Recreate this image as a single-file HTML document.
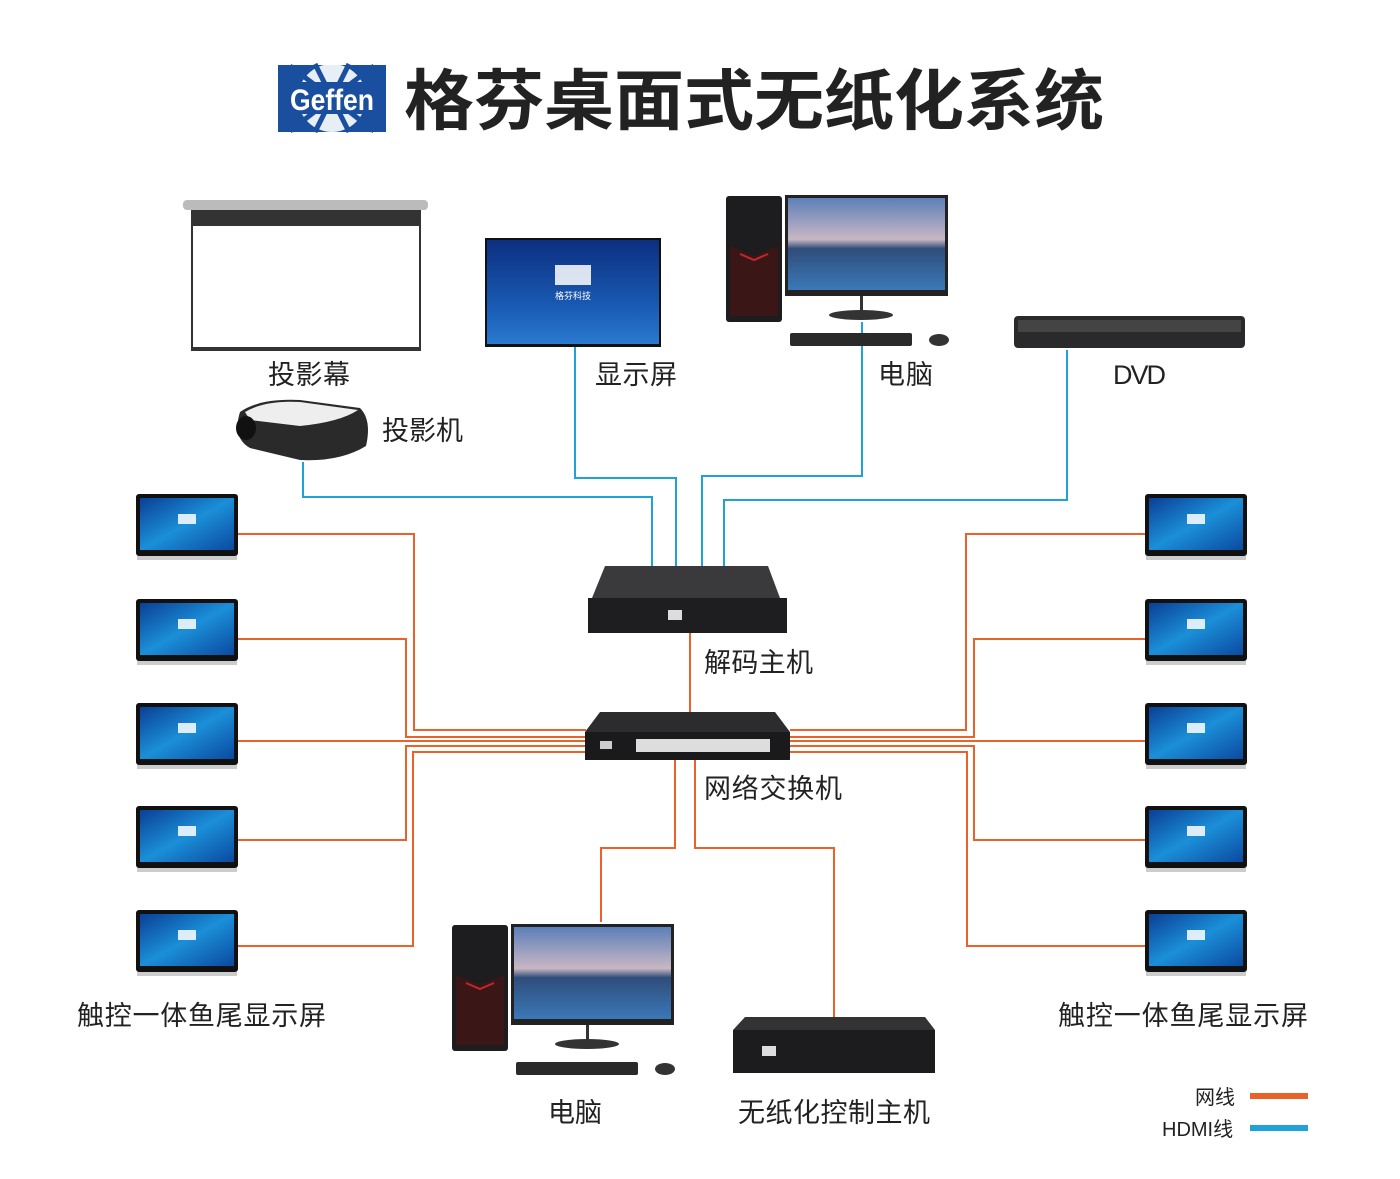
<!DOCTYPE html>
<html><head><meta charset="utf-8"><style>
html,body{margin:0;padding:0;background:#fff;}
svg{display:block;}
text{font-family:"Liberation Sans","Noto Sans CJK SC",sans-serif;}
</style></head><body>
<svg width="1400" height="1179" viewBox="0 0 1400 1179" xmlns="http://www.w3.org/2000/svg">
<defs>
<linearGradient id="scr" x1="0" y1="0" x2="1" y2="1">
<stop offset="0" stop-color="#0a3f95"/><stop offset="0.5" stop-color="#1b8fd8"/><stop offset="1" stop-color="#0b4aa0"/>
</linearGradient>
<linearGradient id="land" x1="0" y1="0" x2="0" y2="1">
<stop offset="0" stop-color="#5c7fb8"/><stop offset="0.45" stop-color="#c9b7c4"/><stop offset="0.55" stop-color="#2f4d7a"/><stop offset="1" stop-color="#3b78b8"/>
</linearGradient>
<linearGradient id="mon" x1="0" y1="0" x2="0" y2="1">
<stop offset="0" stop-color="#0c2f80"/><stop offset="0.7" stop-color="#1b5fb8"/><stop offset="1" stop-color="#2a7ad0"/>
</linearGradient>
<g id="tab">
<rect x="0" y="0" width="102" height="62" rx="3" fill="#111"/>
<rect x="4" y="4" width="94" height="52" fill="url(#scr)"/>
<rect x="42" y="20" width="18" height="10" fill="#fff" opacity="0.85"/>
<rect x="1" y="62" width="100" height="4" fill="#ccc"/>
</g>
<g id="pc">
<rect x="0" y="0" width="56" height="126" rx="3" fill="#1d1d1f"/>
<path d="M4 50 L28 60 L52 50 L52 120 L4 120Z" fill="#3a1616"/>
<path d="M14 58 L28 64 L42 58" stroke="#c0282a" stroke-width="2" fill="none"/>
<rect x="59" y="-1" width="163" height="101" fill="#222"/>
<rect x="62" y="2" width="157" height="92" fill="url(#land)"/>
<rect x="134" y="100" width="3" height="16" fill="#333"/>
<ellipse cx="135" cy="119" rx="32" ry="5" fill="#333"/>
<rect x="64" y="137" width="122" height="13" rx="2" fill="#2a2a2a"/>
<ellipse cx="213" cy="144" rx="10" ry="6" fill="#333"/>
</g>
</defs>

<!-- logo -->
<rect x="278" y="65" width="108" height="67" fill="#1a4fa0"/>
<circle cx="332" cy="98" r="34" fill="#fff" opacity="0.9"/>
<g stroke="#1a4fa0" stroke-width="5">
<line x1="332" y1="98" x2="290" y2="66"/><line x1="332" y1="98" x2="374" y2="66"/>
<line x1="332" y1="98" x2="290" y2="131"/><line x1="332" y1="98" x2="374" y2="131"/>
<line x1="332" y1="98" x2="315" y2="64"/><line x1="332" y1="98" x2="349" y2="64"/>
<line x1="332" y1="98" x2="315" y2="132"/><line x1="332" y1="98" x2="349" y2="132"/>
</g>
<rect x="283" y="82" width="98" height="32" fill="#1a4fa0"/>
<text x="332" y="110" font-size="30" font-weight="bold" fill="#fff" text-anchor="middle" textLength="84" lengthAdjust="spacingAndGlyphs">Geffen</text>
<text x="404" y="124" font-size="66" font-weight="bold" fill="#222" textLength="700" lengthAdjust="spacingAndGlyphs">格芬桌面式无纸化系统</text>

<!-- lines blue -->
<g fill="none" stroke="#1ea2d8" stroke-width="2">
<path d="M303 462 V497 H652 V566"/>
<path d="M575 347 V478 H676 V566"/>
<path d="M862 322 V476 H702 V566"/>
<path d="M1067 350 V500 H724 V566"/>
</g>
<!-- lines orange -->
<g fill="none" stroke="#e8622a" stroke-width="2">
<path d="M238 534 H414 V730 H586"/>
<path d="M238 639 H406 V737 H586"/>
<path d="M238 741 H586"/>
<path d="M238 840 H406 V746 H586"/>
<path d="M238 946 H413 V752 H586"/>
<path d="M1145 534 H966 V730 H790"/>
<path d="M1145 639 H974 V737 H790"/>
<path d="M1145 741 H790"/>
<path d="M1145 840 H974 V746 H790"/>
<path d="M1145 946 H967 V752 H790"/>
<path d="M690 632 V712"/>
<path d="M675 760 V848 H601 V922"/>
<path d="M695 760 V848 H834 V1017"/>
</g>

<!-- projection screen -->
<rect x="183" y="200" width="245" height="10" rx="4" fill="#bbb"/>
<rect x="191" y="210" width="230" height="141" fill="#333"/>
<rect x="193" y="226" width="226" height="121" fill="#fff"/>
<!-- monitor -->
<rect x="485" y="238" width="176" height="109" fill="#111"/>
<rect x="487" y="240" width="172" height="104" fill="url(#mon)"/>
<rect x="555" y="265" width="36" height="20" fill="#fff" opacity="0.85"/>
<text x="573" y="299" font-size="9" fill="#fff" text-anchor="middle">格芬科技</text>
<!-- PCs -->
<use href="#pc" x="726" y="196"/>
<use href="#pc" x="452" y="925"/>
<!-- DVD -->
<rect x="1014" y="316" width="231" height="32" rx="4" fill="#2a2a2c"/>
<rect x="1018" y="320" width="223" height="12" fill="#444"/>
<!-- projector -->
<path d="M240 412 Q260 398 300 400 L360 408 Q372 420 366 446 Q340 462 300 460 L250 448 Q232 438 240 412Z" fill="#2a2a2a"/>
<path d="M245 412 Q265 400 300 402 L358 410 Q340 422 300 426 L250 420Z" fill="#eee"/>
<ellipse cx="246" cy="428" rx="10" ry="12" fill="#111"/>
<!-- decoder -->
<path d="M605 566 L768 566 L780 598 L592 598Z" fill="#3a3a3c"/>
<rect x="588" y="598" width="199" height="35" fill="#1e1e20"/>
<rect x="668" y="610" width="14" height="10" fill="#ddd"/>
<!-- switch -->
<path d="M600 712 L775 712 L790 732 L585 732Z" fill="#2c2c2e"/>
<rect x="585" y="732" width="205" height="28" fill="#1a1a1c"/>
<rect x="636" y="739" width="134" height="13" fill="#ddd"/>
<rect x="600" y="741" width="12" height="8" fill="#ccc"/>
<!-- control host -->
<path d="M745 1017 L925 1017 L935 1030 L733 1030Z" fill="#333"/>
<rect x="733" y="1030" width="202" height="43" fill="#1c1c1e"/>
<rect x="762" y="1046" width="14" height="10" fill="#ddd"/>
<!-- tablets -->
<use href="#tab" x="136" y="494"/><use href="#tab" x="136" y="599"/><use href="#tab" x="136" y="703"/><use href="#tab" x="136" y="806"/><use href="#tab" x="136" y="910"/>
<use href="#tab" x="1145" y="494"/><use href="#tab" x="1145" y="599"/><use href="#tab" x="1145" y="703"/><use href="#tab" x="1145" y="806"/><use href="#tab" x="1145" y="910"/>

<!-- labels -->
<g font-size="27" fill="#222" lengthAdjust="spacingAndGlyphs">
<text x="268" y="384" textLength="82">投影幕</text>
<text x="595" y="384" textLength="82">显示屏</text>
<text x="878" y="384" textLength="55">电脑</text>
<text x="1113" y="384" textLength="53">DVD</text>
<text x="382" y="440" textLength="81">投影机</text>
<text x="704" y="672" textLength="109">解码主机</text>
<text x="704" y="798" textLength="138">网络交换机</text>
<text x="77" y="1025" textLength="249">触控一体鱼尾显示屏</text>
<text x="1058" y="1025" textLength="250">触控一体鱼尾显示屏</text>
<text x="548" y="1122" textLength="54">电脑</text>
<text x="738" y="1122" textLength="192">无纸化控制主机</text>
</g>
<g font-size="20" fill="#222">
<text x="1195" y="1104">网线</text>
<text x="1162" y="1136">HDMI线</text>
</g>
<rect x="1250" y="1093" width="58" height="6" fill="#e8622a"/>
<rect x="1250" y="1125" width="58" height="6" fill="#1ea2d8"/>
</svg>
</body></html>
